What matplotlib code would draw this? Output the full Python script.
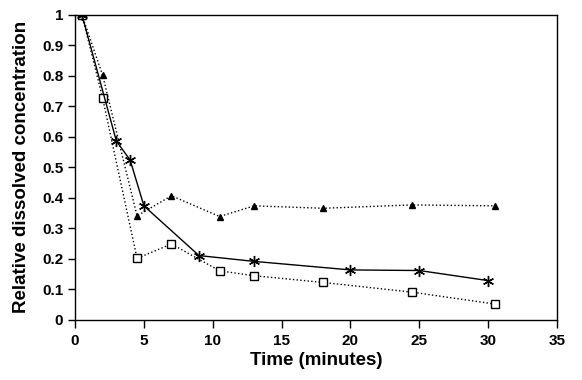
import matplotlib
matplotlib.use("Agg")
import matplotlib.pyplot as plt

# series
t_star = [0.5, 3, 4, 5, 9, 13, 20, 25, 30]
c_star = [1.0, 0.586, 0.524, 0.374, 0.211, 0.192, 0.164, 0.162, 0.129]

t_tri = [0.5, 2, 4.5, 7, 10.5, 13, 18, 24.5, 30.5]
c_tri = [1.0, 0.802, 0.341, 0.407, 0.339, 0.374, 0.366, 0.377, 0.374]

t_sq = [0.5, 2, 4.5, 7, 10.5, 13, 18, 24.5, 30.5]
c_sq = [1.0, 0.727, 0.202, 0.249, 0.161, 0.145, 0.123, 0.091, 0.052]

x_ticks = [0, 5, 10, 15, 20, 25, 30, 35]
y_ticks = [0, 0.1, 0.2, 0.3, 0.4, 0.5, 0.6, 0.7, 0.8, 0.9, 1.0]
y_labels = ["0", "0.1", "0.2", "0.3", "0.4", "0.5", "0.6", "0.7", "0.8", "0.9", "1"]

plt.rcParams["font.family"] = ["Liberation Sans", "DejaVu Sans"]
plt.rcParams["font.weight"] = "bold"

fig = plt.figure(figsize=(5.82, 3.8), dpi=100)
ax = fig.add_axes([0.129, 0.158, 0.828, 0.803])

ax.plot(t_tri, c_tri, color="black", linestyle=":", linewidth=1,
        marker="^", markersize=5, markerfacecolor="black")
ax.plot(t_sq, c_sq, color="black", linestyle=":", linewidth=1,
        marker="s", markersize=6, markerfacecolor="white", markeredgewidth=1)
ax.plot(t_star, c_star, color="black", linestyle="-", linewidth=1,
        marker=(6, 2, 0), markersize=8, markeredgewidth=1)

ax.set_xlim(0, 35)
ax.set_ylim(0, 1)
ax.set_xticks(x_ticks)
ax.set_yticks(y_ticks)
ax.set_yticklabels(y_labels)
ax.tick_params(direction="out", length=5, width=1, labelsize=11, colors="black")
ax.tick_params(axis="x", length=6, pad=4)
for s in ax.spines.values():
    s.set_linewidth(1)

ax.set_xlabel("Time (minutes)", fontsize=13.5, fontweight="bold", labelpad=3)
ax.set_ylabel("Relative dissolved concentration", fontsize=13.5, fontweight="bold", labelpad=9)

fig.savefig("out.png", dpi=100)
